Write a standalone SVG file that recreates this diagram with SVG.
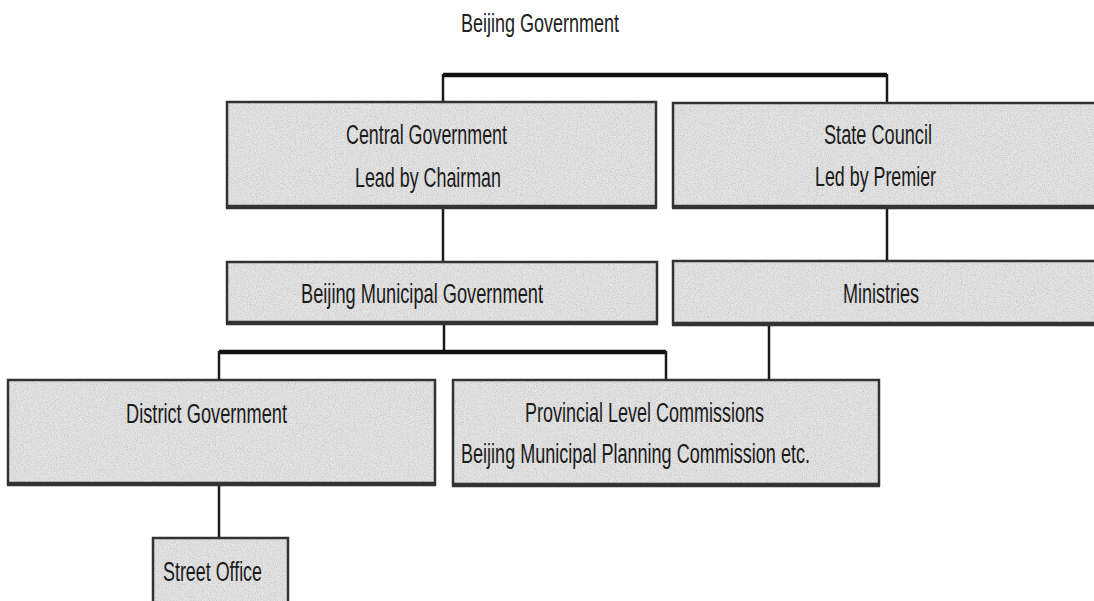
<svg xmlns="http://www.w3.org/2000/svg" width="1094" height="601" viewBox="0 0 1094 601">
  <style>
    .fill { fill: #e4e4e4; filter: url(#grain); }
    .edge { fill: none; stroke: #333333; stroke-width: 2.5; }
    .base { stroke: #333333; stroke-width: 4.5; }
    .lbl { font-family: "Liberation Sans Narrow", "Liberation Sans", Arial, sans-serif; font-size: 27px; fill: #1a1a1a; }
    .title { font-family: "Liberation Sans Narrow", "Liberation Sans", Arial, sans-serif; font-size: 26px; fill: #222222; }
    .bus { stroke: #111111; stroke-width: 4.5; fill: none; }
    .drop { stroke: #1a1a1a; stroke-width: 2.5; fill: none; }
  </style>
  <defs>
    <!-- speckled paper texture for the box interiors -->
    <filter id="grain" x="0" y="0" width="100%" height="100%">
      <feTurbulence type="fractalNoise" baseFrequency="0.85" numOctaves="2" seed="7" result="noise"/>
      <feColorMatrix in="noise" type="matrix" values="0 0 0 0 0.45  0 0 0 0 0.45  0 0 0 0 0.45  0 0 0 1.3 -0.5" result="speck"/>
      <feComposite in="speck" in2="SourceGraphic" operator="in" result="clipped"/>
      <feMerge>
        <feMergeNode in="SourceGraphic"/>
        <feMergeNode in="clipped"/>
      </feMerge>
    </filter>
  </defs>

  <rect width="1094" height="601" fill="#ffffff"/>

  <text class="title" x="461" y="32" textLength="158" lengthAdjust="spacingAndGlyphs">Beijing Government</text>

  <g id="connectors">
    <!-- top bracket joining the two national bodies -->
    <line class="bus" x1="443" y1="75" x2="887" y2="75"/>
    <line class="drop" x1="443" y1="74" x2="443" y2="102"/>
    <line class="drop" x1="887" y1="74" x2="887" y2="103"/>
    <!-- central government to municipal government -->
    <line class="drop" x1="443" y1="207" x2="443" y2="262"/>
    <!-- state council to ministries -->
    <line class="drop" x1="887" y1="207" x2="887" y2="261"/>
    <!-- municipal government to its branches -->
    <line class="drop" x1="444" y1="323" x2="444" y2="352"/>
    <line class="bus" x1="219" y1="352" x2="666" y2="352"/>
    <line class="drop" x1="219" y1="351" x2="219" y2="380"/>
    <line class="drop" x1="666" y1="351" x2="666" y2="380"/>
    <!-- ministries to commissions -->
    <line class="drop" x1="769" y1="324" x2="769" y2="380"/>
    <!-- district to street office -->
    <line class="drop" x1="219" y1="484" x2="219" y2="538"/>
  </g>

  <g id="central-government">
    <rect class="fill" x="227" y="102" width="429" height="105"/>
    <rect class="edge" x="227" y="102" width="429" height="105"/>
    <line class="base" x1="226" y1="207" x2="657" y2="207"/>
    <text class="lbl" x="346" y="144" textLength="161" lengthAdjust="spacingAndGlyphs">Central Government</text>
    <text class="lbl" x="355" y="187" textLength="146" lengthAdjust="spacingAndGlyphs">Lead by Chairman</text>
  </g>

  <g id="state-council">
    <rect class="fill" x="673" y="103" width="430" height="104"/>
    <rect class="edge" x="673" y="103" width="430" height="104"/>
    <line class="base" x1="672" y1="207" x2="1104" y2="207"/>
    <text class="lbl" x="824" y="144" textLength="108" lengthAdjust="spacingAndGlyphs">State Council</text>
    <text class="lbl" x="815" y="186" textLength="121" lengthAdjust="spacingAndGlyphs">Led by Premier</text>
  </g>

  <g id="municipal-government">
    <rect class="fill" x="227" y="262" width="430" height="61"/>
    <rect class="edge" x="227" y="262" width="430" height="61"/>
    <line class="base" x1="226" y1="323" x2="658" y2="323"/>
    <text class="lbl" x="301" y="303" textLength="242" lengthAdjust="spacingAndGlyphs">Beijing Municipal Government</text>
  </g>

  <g id="ministries">
    <rect class="fill" x="673" y="261" width="430" height="63"/>
    <rect class="edge" x="673" y="261" width="430" height="63"/>
    <line class="base" x1="672" y1="324" x2="1104" y2="324"/>
    <text class="lbl" x="843" y="303" textLength="76" lengthAdjust="spacingAndGlyphs">Ministries</text>
  </g>

  <g id="district-government">
    <rect class="fill" x="8" y="380" width="427" height="104"/>
    <rect class="edge" x="8" y="380" width="427" height="104"/>
    <line class="base" x1="7" y1="484" x2="436" y2="484"/>
    <text class="lbl" x="126" y="423" textLength="161" lengthAdjust="spacingAndGlyphs">District Government</text>
  </g>

  <g id="provincial-commissions">
    <rect class="fill" x="453" y="380" width="426" height="105"/>
    <rect class="edge" x="453" y="380" width="426" height="105"/>
    <line class="base" x1="452" y1="485" x2="880" y2="485"/>
    <text class="lbl" x="525" y="422" textLength="239" lengthAdjust="spacingAndGlyphs">Provincial Level Commissions</text>
    <text class="lbl" x="461" y="463" textLength="349" lengthAdjust="spacingAndGlyphs">Beijing Municipal Planning Commission etc.</text>
  </g>

  <g id="street-office">
    <rect class="fill" x="153" y="538" width="135" height="72"/>
    <rect class="edge" x="153" y="538" width="135" height="72"/>
    <text class="lbl" x="163" y="581" textLength="99" lengthAdjust="spacingAndGlyphs">Street Office</text>
  </g>
</svg>
